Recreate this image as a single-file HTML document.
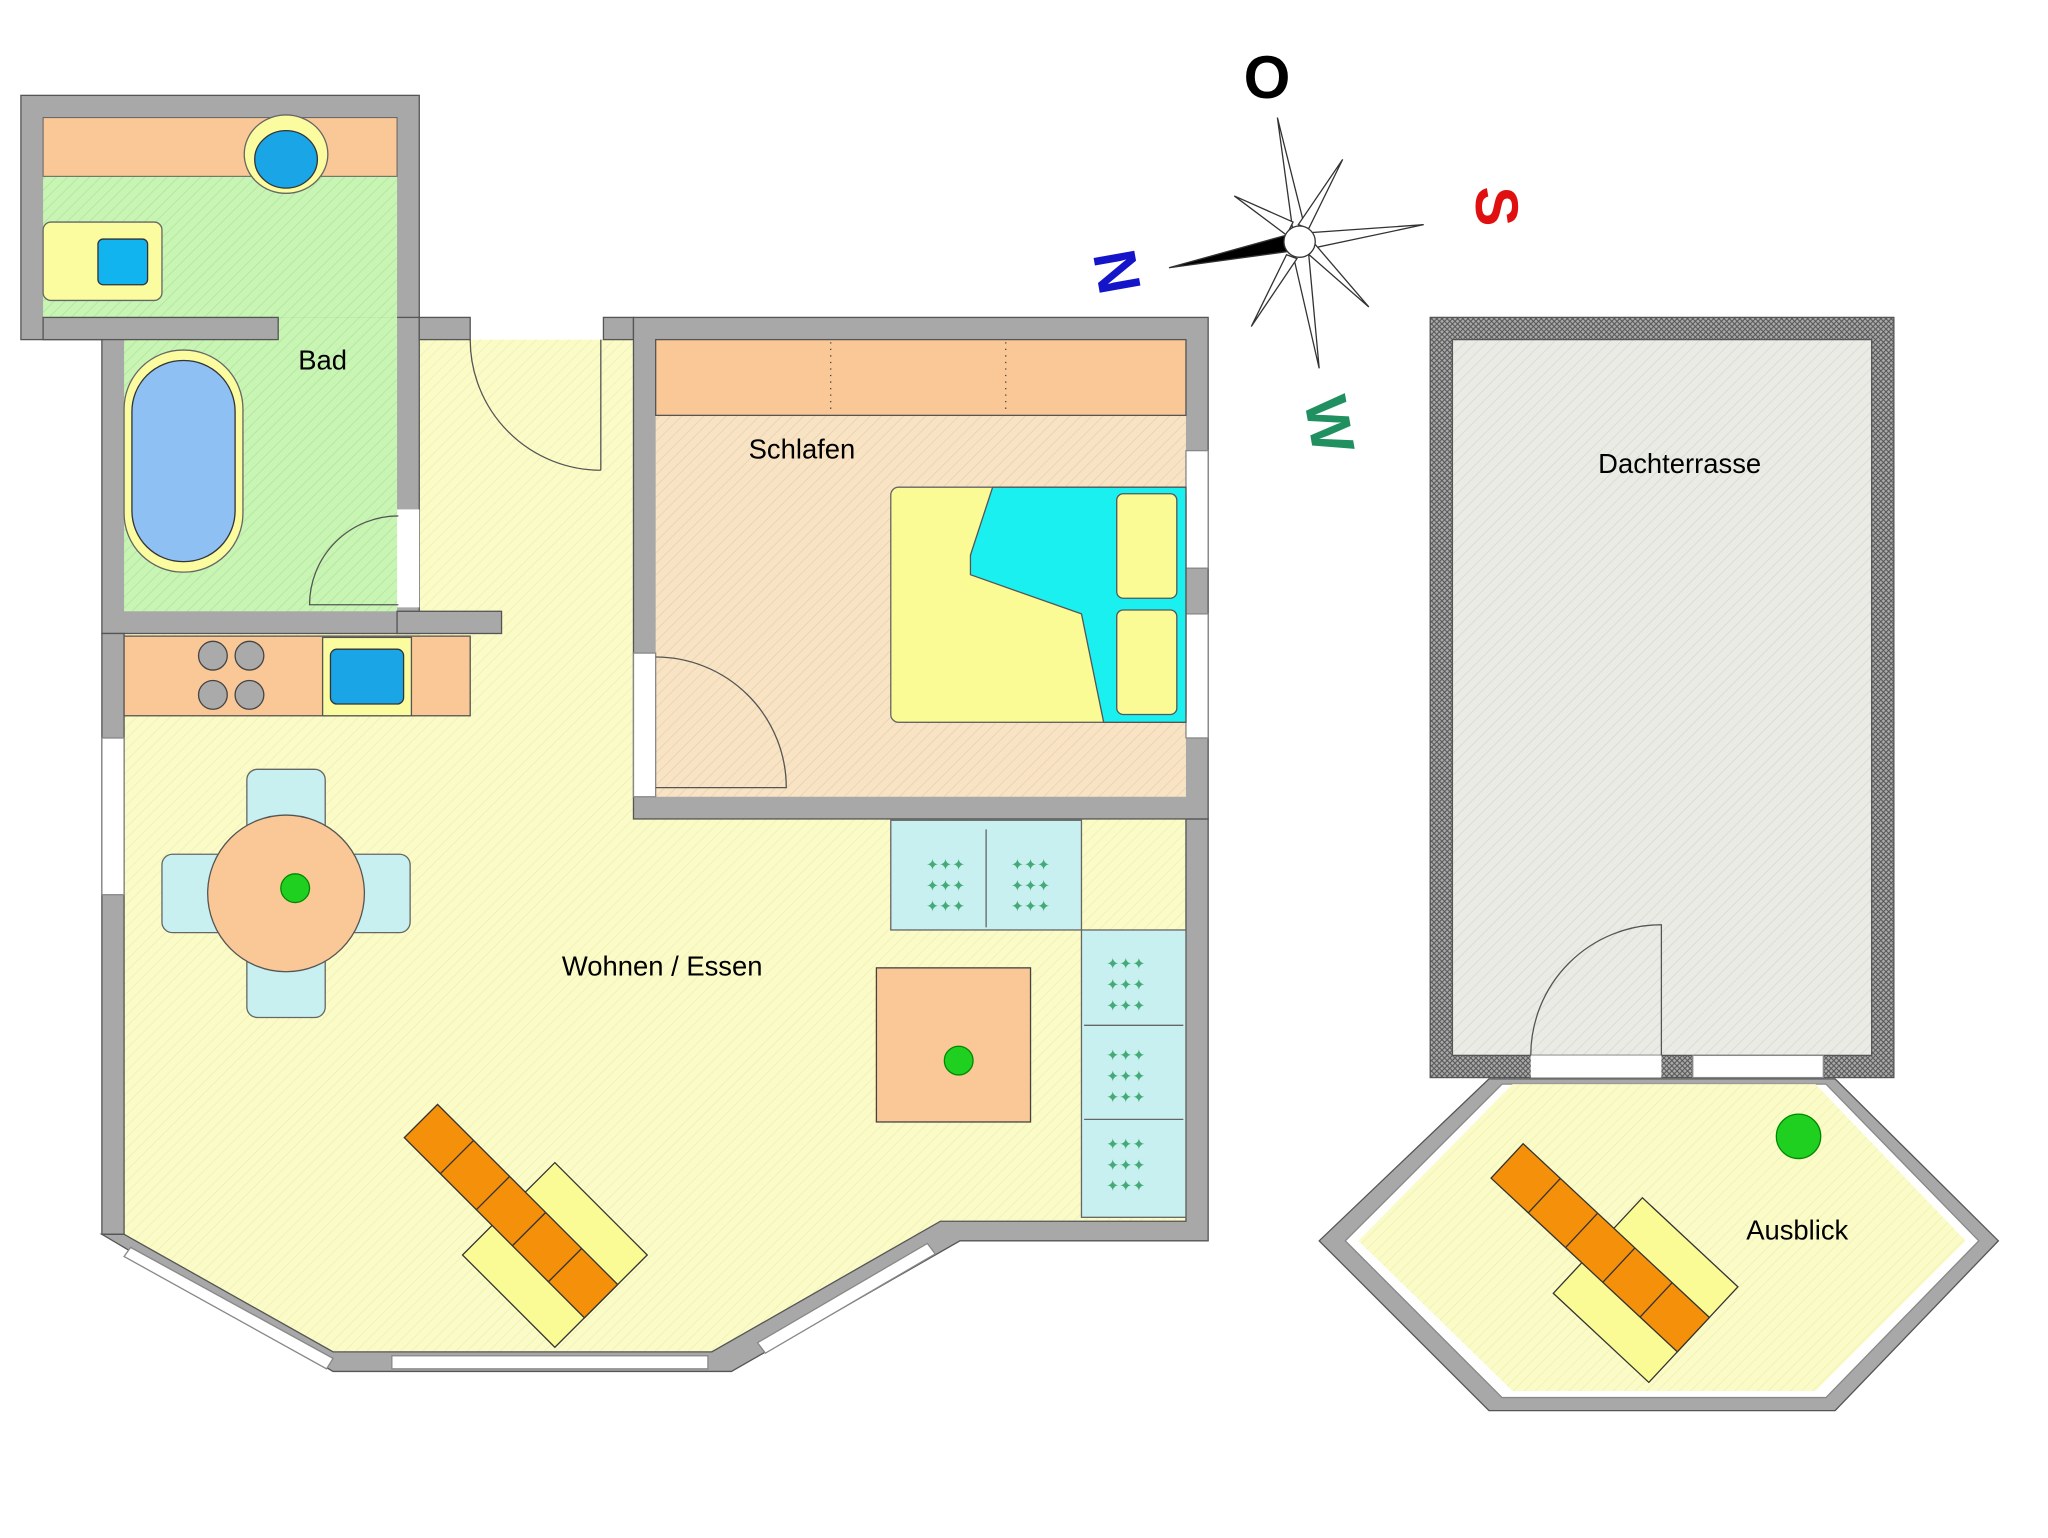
<!DOCTYPE html>
<html><head><style>html,body{margin:0;padding:0;background:#fff}svg{display:block}</style></head><body>
<svg width="2048" height="1538" viewBox="0 0 1568 1177.5" xmlns="http://www.w3.org/2000/svg" font-family="Liberation Sans, sans-serif">
<defs>
<pattern id="hy" width="6" height="6" patternUnits="userSpaceOnUse" patternTransform="rotate(45)"><rect width="6" height="6" fill="#fbfbc8"/><line x1="0" y1="0" x2="0" y2="6" stroke="#ececb0" stroke-width="1"/></pattern>
<pattern id="hg" width="6" height="6" patternUnits="userSpaceOnUse" patternTransform="rotate(45)"><rect width="6" height="6" fill="#c8f5b4"/><line x1="0" y1="0" x2="0" y2="6" stroke="#b4e8a0" stroke-width="1.5"/></pattern>
<pattern id="ht" width="6" height="6" patternUnits="userSpaceOnUse" patternTransform="rotate(45)"><rect width="6" height="6" fill="#f8e4c4"/><line x1="0" y1="0" x2="0" y2="6" stroke="#ecd4b0" stroke-width="1.5"/></pattern>
<pattern id="hs" width="6" height="6" patternUnits="userSpaceOnUse" patternTransform="rotate(45)"><rect width="6" height="6" fill="#ebebe6"/><line x1="0" y1="0" x2="0" y2="6" stroke="#dcdcd6" stroke-width="1.5"/></pattern>
<pattern id="xh" width="4" height="4" patternUnits="userSpaceOnUse"><rect width="4" height="4" fill="#aaa"/><path d="M0 0L4 4M4 0L0 4" stroke="#555" stroke-width="0.8"/></pattern>
<g id="sofa">
<rect x="-5" y="-50" width="100" height="100" fill="#fbfb96" stroke="#333"/>
<rect x="-100" y="-18" width="195" height="36" fill="#f5900a" stroke="#333"/>
<path d="M-61 -18V18M-22 -18V18M17 -18V18M56 -18V18" stroke="#333"/>
</g>
</defs>
<polygon points="95,260 485,260 485,627 908,627 908,935 720,935 545,1035 255,1035 95,945" fill="url(#hy)"/>
<rect x="16" y="73" width="305" height="187" fill="#a8a8a8" stroke="#555"/>
<rect x="78" y="243" width="243" height="242" fill="#a8a8a8" stroke="#555"/>
<rect x="33" y="90" width="271" height="153" fill="url(#hg)"/>
<rect x="95" y="243" width="209" height="225" fill="url(#hg)"/>
<rect x="33" y="243" width="180" height="17" fill="#a8a8a8" stroke="#555"/>
<rect x="304" y="390" width="17" height="75" fill="#fff"/>
<rect x="33" y="90" width="271" height="45" fill="#f9c896" stroke="#666" stroke-width=".8"/>
<ellipse cx="219" cy="118" rx="32" ry="30" fill="#fbfba0" stroke="#666"/>
<ellipse cx="219" cy="122" rx="24" ry="22" fill="#1aa5e6" stroke="#333"/>
<rect x="33" y="170" width="91" height="60" rx="6" fill="#fbfba0" stroke="#666"/>
<rect x="75" y="183" width="38" height="35" rx="4" fill="#12b4f0" stroke="#333"/>
<rect x="95" y="268" width="91" height="170" rx="45" fill="#fbfba0" stroke="#666"/>
<rect x="101" y="276" width="79" height="154" rx="39" fill="#8ec0f4" stroke="#333"/>
<path d="M305 395 A68 68 0 0 0 237 463 L305 463" fill="none" stroke="#555"/>
<text x="247" y="283" font-size="21" text-anchor="middle">Bad</text>
<rect x="78" y="485" width="17" height="460" fill="#a8a8a8" stroke="#555"/>
<rect x="78" y="565" width="17" height="120" fill="#fff" stroke="#888"/>
<rect x="304" y="468" width="80" height="17" fill="#a8a8a8" stroke="#555"/>
<rect x="321" y="243" width="39" height="17" fill="#a8a8a8" stroke="#555"/>
<rect x="462" y="243" width="23" height="17" fill="#a8a8a8" stroke="#555"/>
<path d="M460 260 L460 360 M460 360 A100 100 0 0 1 360 260" fill="none" stroke="#555"/>
<polygon points="78,945 95,945 255,1035 545,1035 720,935 908,935 908,627 925,627 925,950 735,950 560,1050 255,1050" fill="#a8a8a8" stroke="#555"/>
<polygon points="100,955 255,1040 250,1048 95,962" fill="#fff" stroke="#888"/>
<rect x="300" y="1038" width="242" height="10" fill="#fff" stroke="#888"/>
<polygon points="580,1028 710,952 716,960 586,1036" fill="#fff" stroke="#888"/>
<rect x="95" y="487" width="265" height="61" fill="#f9c896" stroke="#555"/>
<circle cx="163" cy="502" r="11" fill="#aaa" stroke="#444"/><circle cx="191" cy="502" r="11" fill="#aaa" stroke="#444"/>
<circle cx="163" cy="532" r="11" fill="#aaa" stroke="#444"/><circle cx="191" cy="532" r="11" fill="#aaa" stroke="#444"/>
<rect x="247" y="488" width="68" height="60" fill="#fbfba0" stroke="#555"/>
<rect x="253" y="497" width="56" height="42" rx="5" fill="#1aa5e6" stroke="#333"/>
<rect x="485" y="243" width="440" height="384" fill="#a8a8a8" stroke="#555"/>
<rect x="502" y="260" width="406" height="350" fill="url(#ht)"/>
<rect x="908" y="345" width="17" height="90" fill="#fff" stroke="#888"/>
<rect x="908" y="470" width="17" height="95" fill="#fff" stroke="#888"/>
<rect x="485" y="500" width="17" height="110" fill="#fff" stroke="#888"/>
<path d="M502 603 L602 603 A100 100 0 0 0 502 503" fill="none" stroke="#555"/>
<rect x="502" y="260" width="406" height="58" fill="#f9c896" stroke="#555"/>
<line x1="636" y1="262" x2="636" y2="316" stroke="#444" stroke-dasharray="1 4"/>
<line x1="770" y1="262" x2="770" y2="316" stroke="#444" stroke-dasharray="1 4"/>
<text x="614" y="351" font-size="21" text-anchor="middle">Schlafen</text>
<rect x="682" y="373" width="226" height="180" rx="6" fill="#fbfb96" stroke="#666"/>
<polygon points="760,373 908,373 908,553 845,553 828,470 743,440 743,425" fill="#1af0f0" stroke="#555"/>
<rect x="855" y="378" width="46" height="80" rx="5" fill="#fbfb96" stroke="#555"/>
<rect x="855" y="467" width="46" height="80" rx="5" fill="#fbfb96" stroke="#555"/>
<rect x="189" y="589" width="60" height="190" rx="8" fill="#c8f0f0" stroke="#666"/>
<rect x="124" y="654" width="190" height="60" rx="8" fill="#c8f0f0" stroke="#666"/>
<circle cx="219" cy="684" r="60" fill="#f9c896" stroke="#555"/>
<circle cx="226" cy="680" r="11" fill="#20d020" stroke="#080"/>
<text x="507" y="747" font-size="21" text-anchor="middle">Wohnen / Essen</text>
<rect x="682" y="628" width="146" height="84" fill="#c8f0f0" stroke="#666"/>
<line x1="755" y1="635" x2="755" y2="710" stroke="#666"/>
<rect x="828" y="712" width="80" height="220" fill="#c8f0f0" stroke="#666"/>
<line x1="830" y1="785" x2="906" y2="785" stroke="#666"/><line x1="830" y1="857" x2="906" y2="857" stroke="#666"/>
<g fill="#4a7" font-size="12" text-anchor="middle">
<text x="724" y="666">✦✦✦</text><text x="724" y="682">✦✦✦</text><text x="724" y="698">✦✦✦</text>
<text x="789" y="666">✦✦✦</text><text x="789" y="682">✦✦✦</text><text x="789" y="698">✦✦✦</text>
<text x="862" y="742">✦✦✦</text><text x="862" y="758">✦✦✦</text><text x="862" y="774">✦✦✦</text>
<text x="862" y="812">✦✦✦</text><text x="862" y="828">✦✦✦</text><text x="862" y="844">✦✦✦</text>
<text x="862" y="880">✦✦✦</text><text x="862" y="896">✦✦✦</text><text x="862" y="912">✦✦✦</text></g>
<rect x="671" y="741" width="118" height="118" fill="#f9c896" stroke="#444"/>
<circle cx="734" cy="812" r="11" fill="#20d020" stroke="#080"/>
<use href="#sofa" transform="translate(393,929) rotate(45)"/>
<rect x="1095" y="243" width="355" height="582" fill="url(#xh)" stroke="#555"/>
<rect x="1112" y="260" width="321" height="548" fill="url(#hs)" stroke="#555"/>
<rect x="1172" y="808" width="100" height="17" fill="#fff"/>
<rect x="1296" y="808" width="100" height="17" fill="#fff" stroke="#888"/>
<path d="M1272 808 L1272 708 A100 100 0 0 0 1172 808" fill="none" stroke="#555"/>
<text x="1286" y="362" font-size="21" text-anchor="middle">Dachterrasse</text>
<polygon points="1140,826 1405,826 1530,950 1405,1080 1140,1080 1010,950" fill="#a8a8a8" stroke="#555"/>
<polygon points="1150,830 1398,830 1515,950 1398,1070 1150,1070 1030,950" fill="#fff" stroke="#888"/>
<polygon points="1158,830 1390,830 1505,950 1390,1065 1158,1065 1040,950" fill="url(#hy)"/>
<circle cx="1377" cy="870" r="17" fill="#20d020" stroke="#080"/>
<use href="#sofa" transform="translate(1227,957) rotate(43)"/>
<text x="1376" y="949" font-size="21" text-anchor="middle">Ausblick</text>
<g stroke="#333" stroke-width="1" fill="#fff">
<polygon points="978,90 990,178 1000,178"/>
<polygon points="1090,172 1005,178 1005,190"/>
<polygon points="1010,282 990,195 1002,195"/>
<polygon points="945,150 985,180 990,170"/>
<polygon points="1028,122 1002,175 994,172"/>
<polygon points="1048,235 1000,193 1006,186"/>
<polygon points="958,250 985,195 993,198"/>
<polygon points="895,205 985,180 990,192" fill="#000"/>
<circle cx="995" cy="185" r="12"/>
</g>
<text x="970" y="75" font-size="46" font-weight="bold" text-anchor="middle">O</text>
<text x="1130" y="158" font-size="46" font-weight="bold" fill="#e01010" text-anchor="middle" transform="rotate(90 1130 158)">S</text>
<text x="855" y="208" font-size="46" font-weight="bold" fill="#1414c8" text-anchor="middle" transform="rotate(-100 855 208)" dy="16">N</text>
<text x="1018" y="325" font-size="46" font-weight="bold" fill="#209060" text-anchor="middle" transform="rotate(80 1018 325)" dy="16">W</text>
</svg>
</body></html>
